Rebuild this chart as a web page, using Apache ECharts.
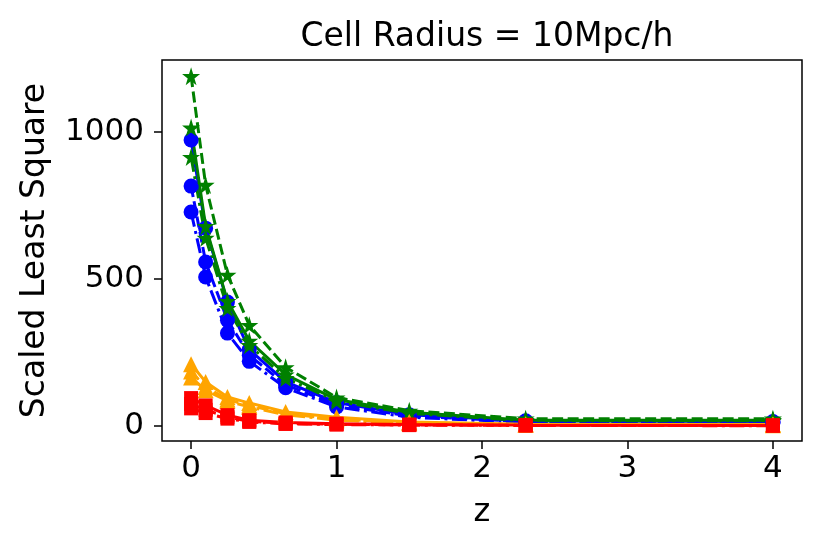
<!DOCTYPE html>
<html>
<head>
<meta charset="utf-8">
<script src="https://cdn.jsdelivr.net/npm/echarts@6/dist/echarts.min.js"></script>
<style>html,body{margin:0;padding:0;background:#fff}#c{width:830px;height:554px}</style>
</head>
<body>
<div id="c"></div>
<script>
// ---- data ----
const zValues = [0, 0.1, 0.25, 0.4, 0.65, 1.0, 1.5, 2.3, 4.0];
const xTicks = [0, 1, 2, 3, 4];
const yTicks = [0, 500, 1000];

const green1 = [1190, 820, 514, 343, 200, 97, 52, 25, 25];
const green2 = [1015, 680, 425, 290, 175, 90, 47, 20, 20];
const green3 = [915, 640, 401, 275, 163, 85, 43, 18, 18];

const blue1 = [973, 673, 422, 260, 150, 80, 38, 18, 15];
const blue2 = [816, 558, 360, 241, 140, 72, 34, 15, 12];
const blue3 = [728, 507, 316, 220, 130, 65, 30, 12, 10];

const orange1 = [210, 150, 99, 78, 48, 30, 14, 6, 5];
const orange2 = [185, 133, 90, 70, 42, 24, 11, 5, 4];
const orange3 = [165, 122, 85, 65, 38, 20, 9, 4, 3];

const red1 = [95, 70, 37, 20, 12, 8, 5, 3, 2];
const red2 = [75, 55, 30, 16, 9, 6, 4, 2, 2];
const red3 = [60, 44, 25, 14, 7, 5, 3, 2, 1];

// ---- styling ----
const STAR = 'path://M50,0 L61,35 L98,35 L68,57 L79,91 L50,70 L21,91 L32,57 L2,35 L39,35 Z';
const DASH = [11, 4.5];
const DASHDOT = [15, 4.5, 3, 4.5];
const FONT = 'DejaVu Sans';

function mk(vals, color, symbol, size, dash) {
  return {
    type: 'line',
    data: zValues.map((z, i) => [z, vals[i]]),
    symbol: symbol,
    symbolSize: size,
    showAllSymbol: true,
    itemStyle: { color: color, borderWidth: 0 },
    lineStyle: { color: color, width: 3, type: dash },
    emphasis: { disabled: true },
    animation: false
  };
}

const series = [
  mk(blue1, '#0000ff', 'circle', 15, 'solid'),
  mk(blue2, '#0000ff', 'circle', 15, DASH),
  mk(blue3, '#0000ff', 'circle', 15, DASHDOT),
  mk(green1, '#008000', STAR, 18, DASH),
  mk(green2, '#008000', STAR, 18, 'solid'),
  mk(green3, '#008000', STAR, 18, DASHDOT),
  mk(orange1, '#ffa500', 'triangle', 16, 'solid'),
  mk(orange2, '#ffa500', 'triangle', 16, DASH),
  mk(orange3, '#ffa500', 'triangle', 16, DASHDOT),
  mk(red1, '#ff0000', 'rect', 14, 'solid'),
  mk(red2, '#ff0000', 'rect', 14, DASH),
  mk(red3, '#ff0000', 'rect', 14, DASHDOT)
];

const chart = echarts.init(document.getElementById('c'), null, { renderer: 'canvas' });
chart.setOption({
  animation: false,
  backgroundColor: '#fff',
  title: {
    text: 'Cell Radius = 10Mpc/h',
    left: 482, textAlign: 'center', top: 16,
    textStyle: { fontFamily: FONT, fontSize: 33, fontWeight: 'normal', color: '#000' }
  },
  grid: {
    left: 162, right: 28, top: 60, bottom: 113,
    show: true, borderColor: '#000', borderWidth: 1.5, backgroundColor: 'transparent'
  },
  xAxis: {
    type: 'value', min: -0.2, max: 4.2,
    name: 'z', nameLocation: 'middle', nameGap: 56,
    nameTextStyle: { fontFamily: FONT, fontSize: 32, color: '#000' },
    axisLine: { show: false, onZero: false },
    axisTick: { show: true, inside: false, length: 8, customValues: xTicks, lineStyle: { color: '#000', width: 1.5 } },
    axisLabel: { customValues: xTicks, margin: 12, fontFamily: FONT, fontSize: 31, color: '#000',
      formatter: v => String(v) },
    splitLine: { show: false }
  },
  yAxis: {
    type: 'value', min: -51, max: 1245,
    name: 'Scaled Least Square', nameLocation: 'middle', nameGap: 110,
    nameTextStyle: { fontFamily: FONT, fontSize: 33, color: '#000' },
    axisLine: { show: false, onZero: false },
    axisTick: { show: true, inside: false, length: 8, customValues: yTicks, lineStyle: { color: '#000', width: 1.5 } },
    axisLabel: { customValues: yTicks, margin: 18, fontFamily: FONT, fontSize: 31, color: '#000',
      formatter: v => String(v) },
    splitLine: { show: false }
  },
  series: series
});
</script>
</body>
</html>
